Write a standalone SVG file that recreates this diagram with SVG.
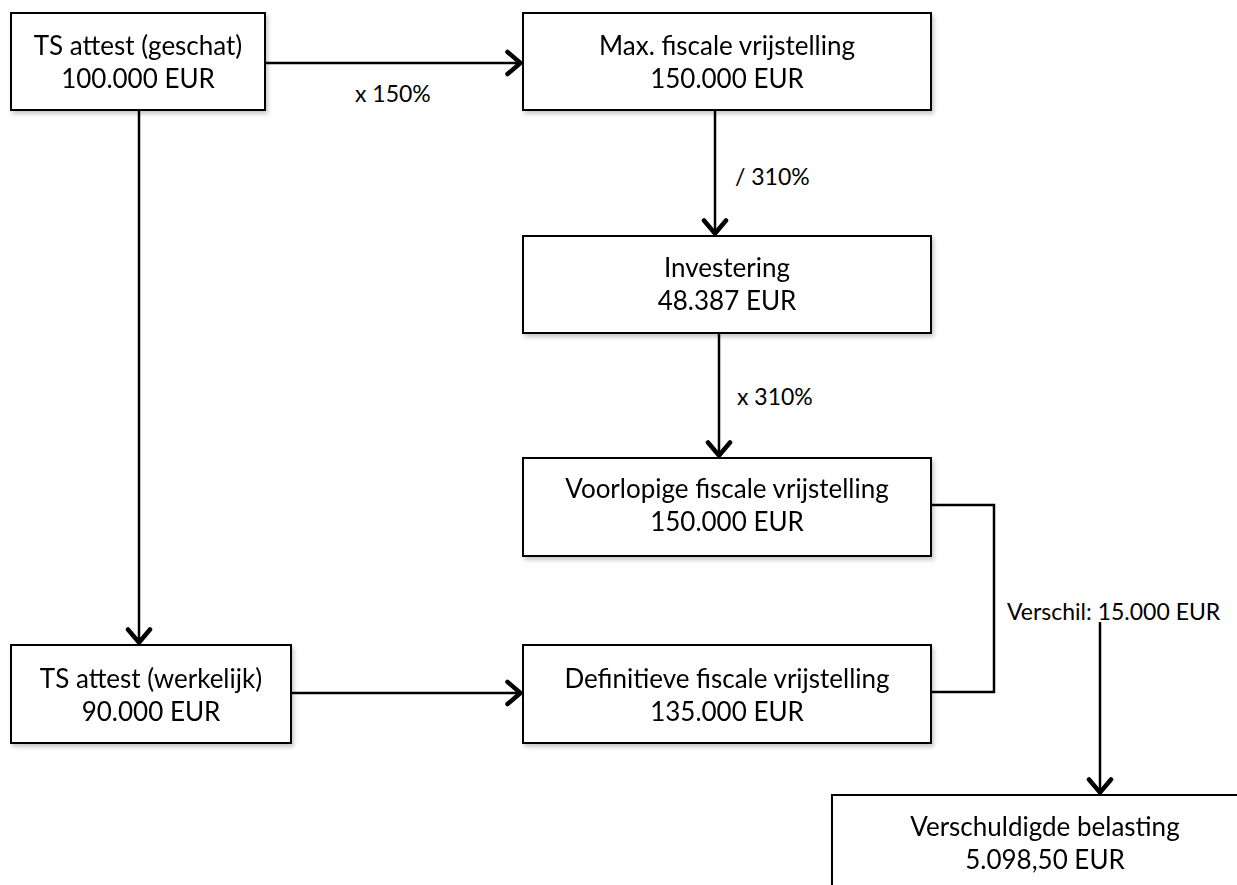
<svg xmlns="http://www.w3.org/2000/svg" width="1237" height="885" viewBox="0 0 1237 885">
  <style>
    .box { fill: #ffffff; stroke: #000000; stroke-width: 2; }
    .t { font-family: "Lato", "Open Sans", "Liberation Sans", sans-serif; font-size: 26px; fill: #000000; text-anchor: middle; }
    .lbl { font-family: "Lato", "Open Sans", "Liberation Sans", sans-serif; font-size: 23px; fill: #000000; }
    .c { fill: none; stroke: #000000; stroke-width: 2.5; }
  </style>
  <defs>
    <filter id="sh" x="-10%" y="-10%" width="130%" height="140%">
      <feDropShadow dx="2" dy="3" stdDeviation="2" flood-color="#000000" flood-opacity="0.22"/>
    </filter>
    <marker id="arr" viewBox="0 0 20 28" refX="17.5" refY="14" markerWidth="20" markerHeight="28" markerUnits="userSpaceOnUse" orient="auto">
      <path d="M3,3 L16,14 L3,25" fill="none" stroke="#000000" stroke-width="4.5" stroke-linecap="round" stroke-linejoin="miter"/>
    </marker>
  </defs>
  <rect width="1237" height="885" fill="#ffffff"/>

  <g id="connectors">
    <line class="c" x1="265" y1="63" x2="522" y2="63" marker-end="url(#arr)"/>
    <line class="c" x1="715" y1="110" x2="715" y2="235" marker-end="url(#arr)"/>
    <line class="c" x1="719" y1="333" x2="719" y2="457" marker-end="url(#arr)"/>
    <line class="c" x1="139" y1="110" x2="139" y2="644" marker-end="url(#arr)"/>
    <line class="c" x1="291" y1="693" x2="522" y2="693" marker-end="url(#arr)"/>
    <polyline class="c" points="931,505 994,505 994,692 931,692"/>
    <line class="c" x1="1100" y1="622" x2="1100" y2="794" marker-end="url(#arr)"/>
    <text class="lbl" x="355" y="102" font-size="22">x 150%</text>
    <text class="lbl" x="735" y="185">/ 310%</text>
    <text class="lbl" x="737" y="405">x 310%</text>
    <text class="lbl" x="1007" y="620" font-size="24">Verschil: 15.000 EUR</text>
  </g>

  <g id="node-ts-geschat" filter="url(#sh)">
    <rect class="box" x="11" y="13" width="254" height="97"/>
    <text class="t" x="138" y="55">TS attest (geschat)</text>
    <text class="t" x="138" y="88">100.000 EUR</text>
  </g>
  <g id="node-max" filter="url(#sh)">
    <rect class="box" x="523" y="13" width="408" height="97"/>
    <text class="t" x="727" y="55">Max. fiscale vrijstelling</text>
    <text class="t" x="727" y="88">150.000 EUR</text>
  </g>
  <g id="node-investering" filter="url(#sh)">
    <rect class="box" x="523" y="236" width="408" height="97"/>
    <text class="t" x="727" y="277">Investering</text>
    <text class="t" x="727" y="310">48.387 EUR</text>
  </g>
  <g id="node-voorlopig" filter="url(#sh)">
    <rect class="box" x="523" y="458" width="408" height="98"/>
    <text class="t" x="727" y="498">Voorlopige fiscale vrijstelling</text>
    <text class="t" x="727" y="531">150.000 EUR</text>
  </g>
  <g id="node-ts-werkelijk" filter="url(#sh)">
    <rect class="box" x="11" y="645" width="280" height="98"/>
    <text class="t" x="151" y="688">TS attest (werkelijk)</text>
    <text class="t" x="151" y="721">90.000 EUR</text>
  </g>
  <g id="node-definitief" filter="url(#sh)">
    <rect class="box" x="523" y="645" width="408" height="98"/>
    <text class="t" x="727" y="688">Definitieve fiscale vrijstelling</text>
    <text class="t" x="727" y="721">135.000 EUR</text>
  </g>
  <g id="node-verschuldigd" filter="url(#sh)">
    <rect class="box" x="832" y="795" width="410" height="100"/>
    <text class="t" x="1045" y="836">Verschuldigde belasting</text>
    <text class="t" x="1045" y="869">5.098,50 EUR</text>
  </g>
</svg>
